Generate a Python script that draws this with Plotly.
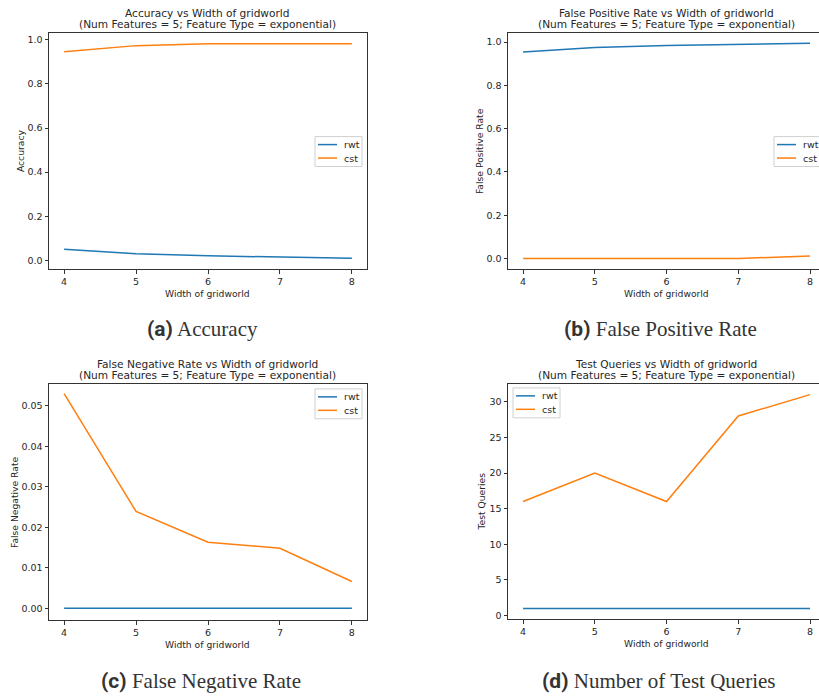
import plotly.graph_objects as go

# ---------------- data ----------------
widths = [4, 5, 6, 7, 8]
series_names = ["rwt", "cst"]

acc_rwt = [0.050, 0.030, 0.020, 0.015, 0.009]
acc_cst = [0.946, 0.974, 0.982, 0.983, 0.982]

fpr_rwt = [0.954, 0.975, 0.985, 0.990, 0.995]
fpr_cst = [0.0, 0.0, 0.0, 0.0, 0.011]

fnr_rwt = [0.0, 0.0, 0.0, 0.0, 0.0]
fnr_cst = [0.0530, 0.0239, 0.0163, 0.0148, 0.0066]

tq_rwt = [1, 1, 1, 1, 1]
tq_cst = [16, 20, 16, 28, 31]

titles = ["Accuracy vs Width of gridworld",
          "False Positive Rate vs Width of gridworld",
          "False Negative Rate vs Width of gridworld",
          "Test Queries vs Width of gridworld"]
subtitle = "(Num Features = 5; Feature Type = exponential)"
ylabels = ["Accuracy", "False Positive Rate", "False Negative Rate", "Test Queries"]
xlabel = "Width of gridworld"
captions = [("(a)", "Accuracy"), ("(b)", "False Positive Rate"),
            ("(c)", "False Negative Rate"), ("(d)", "Number of Test Queries")]

# ---------------- style / layout ----------------
W, H = 819, 698
colors = ["#1f77b4", "#ff7f0e"]
txt = "#262626"
axc = "#333333"
FONT = "DejaVu Sans"

# panel boxes in pixels: (left, right, top, bottom) ; right panels extend beyond page
panels = [
    dict(l=49, r=367, t=33, b=270, xr=[3.79, 8.21], yr=[-0.0407, 1.0317], dt=0.2, fmt=".1f",
         ylab_x=20, leg=(315, 137), mirror_y=True, cx=202, cy=330),
    dict(l=508, r=819, t=33, b=270, xr=[3.79, 8.125], yr=[-0.0497, 1.0427], dt=0.2, fmt=".1f",
         ylab_x=479, leg=(774, 137), mirror_y=False, cx=660, cy=330),
    dict(l=49, r=367, t=385, b=622, xr=[3.79, 8.21], yr=[-0.00296, 0.0554], dt=0.01, fmt=".2f",
         ylab_x=14, leg=(315, 390), mirror_y=True, cx=201, cy=683),
    dict(l=508, r=819, t=385, b=621, xr=[3.79, 8.125], yr=[-0.5, 32.5], dt=5, fmt="d",
         ylab_x=482, leg=(513, 389), mirror_y=False, cx=658, cy=683),
]
full_center = [207, 666, 207, 666]

data = [(acc_rwt, acc_cst), (fpr_rwt, fpr_cst), (fnr_rwt, fnr_cst), (tq_rwt, tq_cst)]

fig = go.Figure()
annotations = []
shapes = []

def px(x):
    return x / W

def py(y):
    return 1 - y / H

for i, (p, ys) in enumerate(zip(panels, data)):
    k = "" if i == 0 else str(i + 1)
    for j, (name, yv) in enumerate(zip(series_names, ys)):
        fig.add_trace(go.Scatter(x=widths, y=yv, mode="lines", name=name,
                                 line=dict(color=colors[j], width=1.5),
                                 xaxis="x" + k, yaxis="y" + k, showlegend=False))
    fig.layout["xaxis" + k] = dict(
        domain=[px(p["l"]), px(p["r"])], anchor="y" + k, range=p["xr"],
        tickvals=widths, ticks="outside", ticklen=3.5, tickwidth=0.8, tickcolor=axc,
        showline=True, linecolor=axc, linewidth=1, mirror=True,
        showgrid=False, zeroline=False, tickfont=dict(family=FONT, size=9.5, color=txt))
    fig.layout["yaxis" + k] = dict(
        domain=[py(p["b"]), py(p["t"])], anchor="x" + k, range=p["yr"],
        dtick=p["dt"], tick0=0, tickformat=p["fmt"], ticks="outside", ticklen=3.5,
        tickwidth=0.8, tickcolor=axc, showline=True, linecolor=axc, linewidth=1,
        mirror=p["mirror_y"], showgrid=False, zeroline=False,
        tickfont=dict(family=FONT, size=9.5, color=txt))
    cxp = full_center[i]
    # titles
    annotations.append(dict(text=titles[i], x=px(cxp), y=py(p["t"] - 20), xref="paper", yref="paper",
                            showarrow=False, xanchor="center", yanchor="middle",
                            font=dict(family=FONT, size=10.6, color=txt)))
    annotations.append(dict(text=subtitle, x=px(cxp), y=py(p["t"] - 9), xref="paper", yref="paper",
                            showarrow=False, xanchor="center", yanchor="middle",
                            font=dict(family=FONT, size=10.6, color=txt)))
    # axis labels
    annotations.append(dict(text=xlabel, x=px(cxp), y=py(p["b"] + 24), xref="paper", yref="paper",
                            showarrow=False, xanchor="center", yanchor="middle",
                            font=dict(family=FONT, size=9.2, color=txt)))
    annotations.append(dict(text=ylabels[i], x=px(p["ylab_x"]), y=py((p["t"] + p["b"]) / 2),
                            xref="paper", yref="paper", showarrow=False, textangle=-90,
                            xanchor="center", yanchor="middle",
                            font=dict(family=FONT, size=9.2, color=txt)))
    # legend box
    lx, ly = p["leg"]
    shapes.append(dict(type="rect", xref="paper", yref="paper",
                       x0=px(lx), x1=px(lx + 47), y0=py(ly + 30), y1=py(ly),
                       line=dict(color="#d0d0d0", width=1), fillcolor="rgba(255,255,255,0.8)"))
    for j, name in enumerate(series_names):
        yy = ly + 8 + 13.5 * j
        shapes.append(dict(type="line", xref="paper", yref="paper",
                           x0=px(lx + 3), x1=px(lx + 22), y0=py(yy), y1=py(yy),
                           line=dict(color=colors[j], width=1.5)))
        annotations.append(dict(text=name, x=px(lx + 27), y=py(yy), xref="paper", yref="paper",
                                showarrow=False, xanchor="left", yanchor="middle",
                                font=dict(family=FONT, size=9.5, color=txt)))
    # caption
    lab, cap = captions[i]
    annotations.append(dict(
        text="<span style='font-family:Roboto; font-weight:bold'>" + lab + "</span> " + cap,
        x=px(p["cx"]), y=py(p["cy"]), xref="paper", yref="paper", showarrow=False,
        xanchor="center", yanchor="middle",
        font=dict(family="Liberation Serif", size=21, color="#333333")))

fig.update_layout(width=W, height=H, margin=dict(l=0, r=0, t=0, b=0),
                  paper_bgcolor="white", plot_bgcolor="white",
                  annotations=annotations, shapes=shapes, showlegend=False)

fig.write_html("out.html")
